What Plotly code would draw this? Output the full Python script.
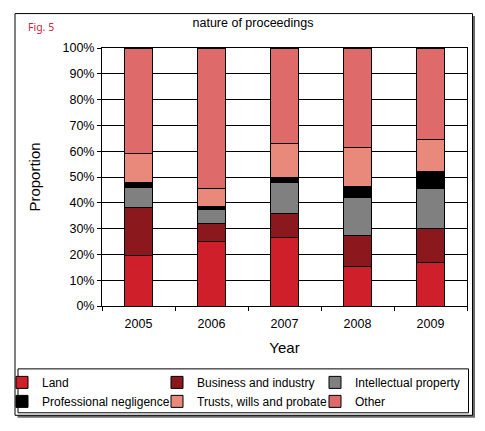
import plotly.graph_objects as go

W, H = 485, 431
L, R, T, B = 102, 467, 47.5, 306  # plot area in pixels

years = ["2005", "2006", "2007", "2008", "2009"]
land = [19.5, 25.0, 26.5, 15.5, 17.0]
business = [18.8, 7.0, 9.5, 12.0, 13.0]
intellectual = [7.7, 5.5, 12.0, 14.5, 15.5]
negligence = [1.7, 1.0, 2.0, 4.5, 6.8]
trusts = [11.3, 7.0, 13.0, 15.0, 12.1]
other = [41.0, 54.5, 37.0, 38.5, 35.6]

# name, values, colour, legend column
series = [
    ("Land", land, "#cf1f2b", "legend"),
    ("Business and industry", business, "#8a181d", "legend2"),
    ("Intellectual property", intellectual, "#808080", "legend3"),
    ("Professional negligence", negligence, "#000000", "legend"),
    ("Trusts, wills and probate", trusts, "#e8897b", "legend2"),
    ("Other", other, "#de6b6a", "legend3"),
]


def px2x(p):
    return (p - L) / (R - L)


def px2y(p):
    return (B - p) / (B - T)


font = "Liberation Sans, Arial, sans-serif"

fig = go.Figure()
for name, vals, col, leg in series:
    fig.add_trace(go.Bar(x=years, y=vals, name=name, width=0.39, legend=leg,
                         marker=dict(color=col, line=dict(color="black", width=1))))

shapes = [
    # drop shadow + outer frame
    dict(type="rect", xref="paper", yref="paper", x0=px2x(17.5), x1=px2x(475),
         y0=px2y(15.5), y1=px2y(418), fillcolor="#6a6a6a", line=dict(width=0), layer="below"),
    dict(type="rect", xref="paper", yref="paper", x0=px2x(15), x1=px2x(472.5),
         y0=px2y(13), y1=px2y(415.5), fillcolor="white", line=dict(color="black", width=1), layer="below"),
    # legend box
    dict(type="rect", xref="paper", yref="paper", x0=px2x(18), x1=px2x(468.5),
         y0=px2y(369), y1=px2y(413), line=dict(color="black", width=1)),
]


def leg(xpix):
    return dict(orientation="v", x=px2x(xpix), y=px2y(368), xanchor="left", yanchor="top",
                bgcolor="rgba(0,0,0,0)", borderwidth=0, font=dict(size=12),
                traceorder="normal", tracegroupgap=0)


fig.update_layout(
    width=W, height=H,
    margin=dict(l=L, r=W - R, t=T, b=H - B, pad=0, autoexpand=False),
    paper_bgcolor="white", plot_bgcolor="white",
    barmode="stack",
    font=dict(family=font, size=12.5, color="black"),
    title=dict(text="nature of proceedings", x=253 / W, xanchor="center",
               y=1 - 23 / H, yanchor="middle", font=dict(size=12.5)),
    shapes=shapes,
    showlegend=True,
    legend=leg(2), legend2=leg(157), legend3=leg(315),
    annotations=[dict(text="Fig. 5", xref="paper", yref="paper", x=px2x(26), y=px2y(26),
                      xanchor="left", yanchor="middle", showarrow=False,
                      font=dict(family="Noto Sans, sans-serif", size=10.5, color="#cc2244"))],
)

fig.update_xaxes(type="category", showline=True, linecolor="black", linewidth=1, mirror=True,
                 ticks="outside", tickson="boundaries", ticklen=4, tickcolor="black",
                 ticklabelstandoff=6, showgrid=False, automargin=False,
                 title=dict(text="Year", standoff=12))
fig.update_yaxes(range=[0, 100], dtick=10, ticksuffix="%", showline=True, linecolor="black",
                 linewidth=1, mirror=True, ticks="outside", ticklen=4, tickcolor="black",
                 showgrid=True, gridcolor="black", gridwidth=1, zeroline=False,
                 automargin=False, title=dict(text="Proportion", standoff=18))

# the page body has a default 8px margin; drop it so the figure fills the window
fig.write_html("out.html", config={"displayModeBar": False},
               post_script="document.body.style.margin='0px';document.body.style.overflow='hidden';")
